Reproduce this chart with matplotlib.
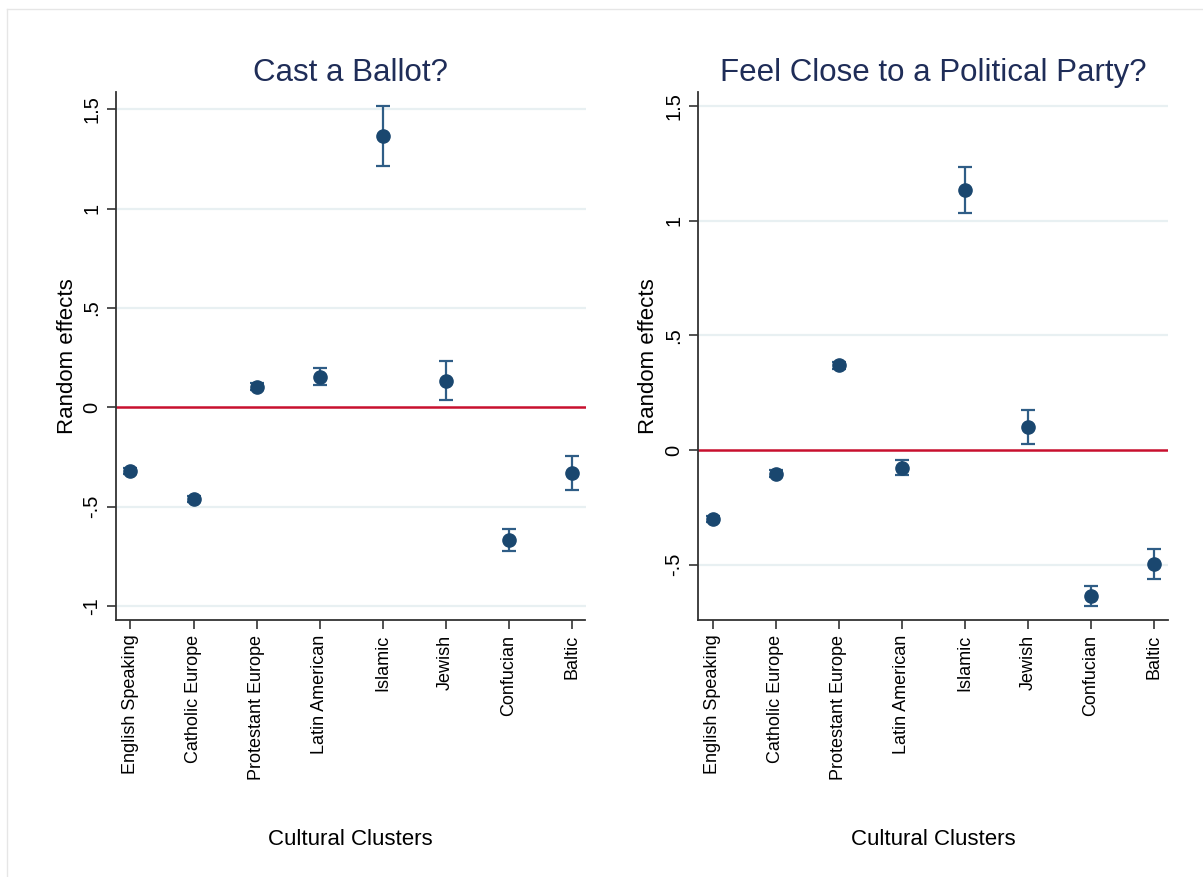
import numpy as np
import matplotlib
matplotlib.use("Agg")
import matplotlib.pyplot as plt
from matplotlib.lines import Line2D

plt.rcParams['font.family'] = ['Liberation Sans', 'DejaVu Sans']

# data
clusters = ["English Speaking", "Catholic Europe", "Protestant Europe", "Latin American",
            "Islamic", "Jewish", "Confucian", "Baltic"]
ballot_est = [-0.32, -0.46, 0.105, 0.155, 1.365, 0.135, -0.668, -0.332]
ballot_err = [0.016, 0.016, 0.016, 0.042, 0.15, 0.10, 0.057, 0.085]
party_est = [-0.30, -0.103, 0.369, -0.078, 1.135, 0.101, -0.637, -0.498]
party_err = [0.014, 0.014, 0.014, 0.033, 0.10, 0.074, 0.045, 0.066]

ballot_ticks = [-1, -0.5, 0, 0.5, 1, 1.5]
ballot_ticklabels = ["-1", "-.5", "0", ".5", "1", "1.5"]
party_ticks = [-0.5, 0, 0.5, 1, 1.5]
party_ticklabels = ["-.5", "0", ".5", "1", "1.5"]

marker_col = '#1a476f'
bar_col = '#2f5d86'
grid_col = '#e8f0f2'
red_col = '#c8102e'
title_col = '#1f2d58'
axis_col = '#333333'


def draw_panel(ax, title, est, err, ticks, ticklabels, ylim):
    x = np.arange(1, len(clusters) + 1)
    for t in ticks:
        if t != 0:
            ax.axhline(t, color=grid_col, lw=1.6, zorder=0)
    ax.axhline(0, color=red_col, lw=1.8, zorder=1)
    ax.errorbar(x, est, yerr=err, fmt='none', ecolor=bar_col, elinewidth=1.6,
                capsize=4.7, capthick=1.6, zorder=2)
    ax.plot(x, est, 'o', color=marker_col, markersize=9.5, zorder=3)

    ax.set_xlim(0.77, 8.22)
    ax.set_ylim(*ylim)
    ax.set_xticks(x)
    ax.set_xticklabels(clusters, rotation=90, fontsize=13)
    ax.set_yticks(ticks)
    ax.set_yticklabels(ticklabels, rotation=90, va='center', fontsize=14.5)
    ax.tick_params(axis='both', length=6.5, width=1.2, color=axis_col, pad=4)

    for s in ['top', 'right']:
        ax.spines[s].set_visible(False)
    for s in ['left', 'bottom']:
        ax.spines[s].set_color(axis_col)
        ax.spines[s].set_linewidth(1.3)

    ax.set_title(title, fontsize=22.5, color=title_col, pad=8)
    ax.set_ylabel("Random effects", fontsize=16)
    ax.yaxis.set_label_coords(-0.082, 0.5)
    ax.set_xlabel("Cultural Clusters", fontsize=16)
    ax.xaxis.set_label_coords(0.5, -0.395)


fig = plt.figure(figsize=(12.03, 8.77), dpi=100)
ax1 = fig.add_axes([116 / 1203, 1 - 620 / 877, 469.5 / 1203, 528 / 877])
ax2 = fig.add_axes([698 / 1203, 1 - 620 / 877, 470 / 1203, 528 / 877])

draw_panel(ax1, "Cast a Ballot?", ballot_est, ballot_err,
           ballot_ticks, ballot_ticklabels, (-1.07, 1.587))
draw_panel(ax2, "Feel Close to a Political Party?", party_est, party_err,
           party_ticks, party_ticklabels, (-0.741, 1.561))

# faint frame at top and left of the canvas
fig.add_artist(Line2D([7 / 1203, 7 / 1203], [0, 1 - 9 / 877], color='#e6e6e6', lw=1))
fig.add_artist(Line2D([7 / 1203, 1], [1 - 9 / 877, 1 - 9 / 877], color='#e6e6e6', lw=1))

fig.savefig("out.png", dpi=100)
